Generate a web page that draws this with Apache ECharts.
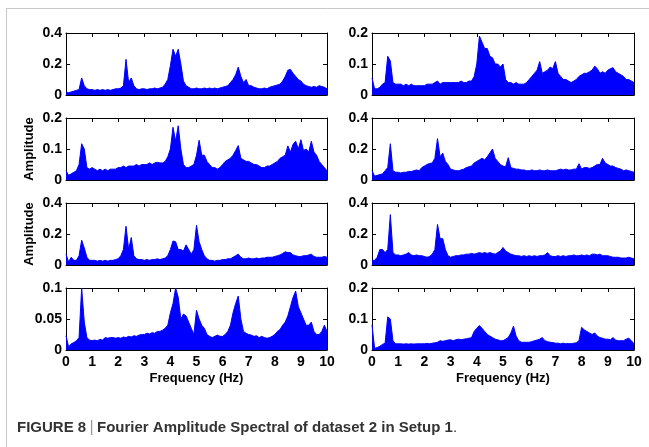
<!DOCTYPE html>
<html>
<head>
<meta charset="utf-8">
<title>Fourier Amplitude Spectral</title>
<script src="https://cdn.jsdelivr.net/npm/echarts@6/dist/echarts.min.js"></script>
<style>
  html, body { margin: 0; padding: 0; background: #fff; }
  #chart { width: 649px; height: 447px; }
</style>
</head>
<body>
<div id="chart"></div>
<script>
// amplitudes, one value per 0.1 Hz from 0 to 10 Hz
var ampA = [0.02,0.015,0.02,0.025,0.03,0.035,0.11,0.06,0.04,0.035,
  0.035,0.03,0.035,0.03,0.035,0.03,0.035,0.03,0.035,0.04,
  0.04,0.045,0.06,0.23,0.08,0.11,0.06,0.04,0.035,0.04,
  0.04,0.035,0.04,0.04,0.045,0.04,0.045,0.05,0.07,0.1,
  0.19,0.295,0.25,0.295,0.2,0.09,0.06,0.05,0.04,0.04,
  0.045,0.04,0.04,0.045,0.04,0.045,0.04,0.045,0.04,0.045,
  0.05,0.055,0.06,0.08,0.1,0.13,0.18,0.12,0.08,0.1,
  0.06,0.06,0.05,0.045,0.04,0.04,0.045,0.04,0.05,0.055,
  0.06,0.065,0.07,0.09,0.12,0.16,0.165,0.14,0.12,0.1,
  0.09,0.07,0.06,0.055,0.05,0.055,0.05,0.06,0.055,0.05,0.04];
var ampB = [0.055,0.02,0.02,0.025,0.035,0.04,0.125,0.11,0.04,0.035,
  0.035,0.035,0.03,0.035,0.03,0.035,0.03,0.03,0.03,0.03,
  0.03,0.035,0.035,0.035,0.04,0.045,0.035,0.04,0.04,0.04,
  0.04,0.04,0.04,0.04,0.045,0.04,0.04,0.045,0.045,0.06,
  0.1,0.19,0.17,0.15,0.15,0.125,0.12,0.1,0.1,0.09,
  0.1,0.05,0.04,0.04,0.035,0.04,0.035,0.035,0.035,0.04,
  0.05,0.06,0.07,0.08,0.108,0.07,0.075,0.08,0.09,0.085,
  0.108,0.07,0.06,0.05,0.05,0.045,0.04,0.045,0.05,0.06,
  0.065,0.07,0.07,0.075,0.08,0.093,0.085,0.07,0.075,0.07,
  0.08,0.085,0.088,0.075,0.07,0.065,0.06,0.05,0.05,0.045,0.04];
var ampC = [0.03,0.015,0.02,0.025,0.03,0.05,0.117,0.1,0.04,0.035,
  0.04,0.035,0.03,0.035,0.03,0.035,0.03,0.035,0.035,0.035,
  0.04,0.04,0.045,0.04,0.045,0.045,0.045,0.05,0.045,0.05,
  0.05,0.05,0.055,0.05,0.055,0.057,0.055,0.055,0.06,0.075,
  0.1,0.17,0.125,0.175,0.1,0.05,0.04,0.04,0.045,0.05,
  0.08,0.128,0.08,0.08,0.06,0.05,0.04,0.04,0.035,0.04,
  0.05,0.06,0.065,0.07,0.08,0.095,0.111,0.07,0.065,0.06,
  0.06,0.055,0.05,0.05,0.045,0.04,0.04,0.045,0.045,0.05,
  0.055,0.06,0.07,0.075,0.08,0.11,0.09,0.115,0.125,0.1,
  0.13,0.095,0.1,0.09,0.125,0.09,0.08,0.06,0.05,0.04,0.03];
var ampD = [0.06,0.025,0.03,0.035,0.04,0.06,0.08,0.234,0.06,0.05,
  0.05,0.045,0.05,0.05,0.055,0.055,0.06,0.065,0.06,0.08,
  0.09,0.1,0.107,0.11,0.14,0.267,0.15,0.173,0.12,0.1,
  0.07,0.065,0.06,0.06,0.065,0.07,0.08,0.085,0.09,0.11,
  0.12,0.13,0.14,0.13,0.15,0.175,0.2,0.14,0.12,0.1,
  0.09,0.085,0.144,0.08,0.075,0.07,0.07,0.065,0.065,0.06,
  0.06,0.065,0.06,0.06,0.065,0.06,0.06,0.065,0.06,0.06,
  0.06,0.065,0.07,0.065,0.07,0.065,0.065,0.07,0.07,0.105,
  0.07,0.08,0.08,0.075,0.08,0.09,0.1,0.1,0.14,0.11,
  0.1,0.09,0.09,0.08,0.075,0.07,0.06,0.065,0.06,0.055,0.05];
var ampE = [0.07,0.02,0.05,0.03,0.03,0.06,0.16,0.11,0.05,0.03,
  0.03,0.03,0.025,0.03,0.025,0.03,0.025,0.03,0.03,0.035,
  0.04,0.06,0.1,0.25,0.1,0.177,0.06,0.04,0.035,0.035,
  0.03,0.035,0.03,0.035,0.035,0.04,0.035,0.04,0.045,0.06,
  0.1,0.155,0.15,0.1,0.1,0.09,0.13,0.1,0.07,0.1,
  0.256,0.15,0.1,0.06,0.04,0.03,0.03,0.025,0.03,0.03,
  0.035,0.035,0.04,0.04,0.05,0.06,0.07,0.05,0.04,0.04,
  0.045,0.04,0.04,0.045,0.04,0.045,0.045,0.05,0.05,0.05,
  0.055,0.06,0.065,0.075,0.085,0.08,0.08,0.065,0.06,0.055,
  0.055,0.06,0.06,0.065,0.07,0.055,0.05,0.05,0.05,0.055,0.05];
var ampF = [0.03,0.03,0.05,0.1,0.1,0.08,0.1,0.325,0.08,0.065,
  0.065,0.06,0.065,0.07,0.08,0.065,0.06,0.065,0.06,0.06,
  0.055,0.05,0.055,0.07,0.1,0.262,0.17,0.17,0.1,0.06,
  0.05,0.055,0.06,0.06,0.065,0.065,0.07,0.07,0.075,0.07,
  0.075,0.08,0.075,0.08,0.075,0.08,0.075,0.07,0.08,0.09,
  0.113,0.09,0.08,0.07,0.065,0.06,0.06,0.055,0.06,0.055,
  0.06,0.055,0.06,0.055,0.06,0.06,0.065,0.08,0.06,0.055,
  0.055,0.06,0.055,0.06,0.055,0.06,0.06,0.065,0.06,0.06,
  0.065,0.06,0.065,0.06,0.07,0.07,0.065,0.07,0.06,0.06,
  0.06,0.055,0.05,0.05,0.05,0.045,0.045,0.045,0.05,0.045,0.04];
var ampG = [0.023,0.005,0.01,0.012,0.015,0.02,0.1,0.045,0.02,0.016,
  0.015,0.016,0.015,0.017,0.016,0.02,0.019,0.02,0.02,0.019,
  0.02,0.019,0.021,0.02,0.022,0.021,0.023,0.022,0.024,0.025,
  0.025,0.027,0.026,0.028,0.027,0.03,0.03,0.032,0.035,0.04,
  0.06,0.075,0.1,0.085,0.05,0.058,0.055,0.045,0.035,0.025,
  0.064,0.05,0.04,0.035,0.025,0.022,0.02,0.022,0.024,0.022,
  0.022,0.025,0.03,0.04,0.06,0.075,0.087,0.05,0.03,0.027,
  0.025,0.024,0.022,0.023,0.02,0.022,0.02,0.019,0.02,0.022,
  0.025,0.03,0.033,0.04,0.045,0.055,0.07,0.085,0.095,0.07,
  0.06,0.05,0.04,0.04,0.045,0.03,0.025,0.025,0.03,0.04,0.03];
var ampH = [0.081,0.005,0.008,0.012,0.018,0.022,0.107,0.1,0.03,0.02,
  0.02,0.02,0.019,0.02,0.019,0.02,0.019,0.02,0.02,0.02,
  0.02,0.021,0.02,0.022,0.023,0.025,0.03,0.028,0.03,0.032,
  0.033,0.03,0.033,0.035,0.033,0.035,0.036,0.038,0.04,0.06,
  0.07,0.079,0.07,0.06,0.05,0.045,0.04,0.035,0.033,0.03,
  0.03,0.035,0.04,0.055,0.077,0.045,0.03,0.025,0.025,0.025,
  0.025,0.027,0.03,0.032,0.035,0.04,0.03,0.027,0.025,0.024,
  0.022,0.022,0.02,0.022,0.02,0.021,0.02,0.022,0.023,0.03,
  0.073,0.065,0.06,0.055,0.05,0.055,0.045,0.04,0.038,0.035,
  0.035,0.033,0.04,0.032,0.03,0.03,0.03,0.035,0.038,0.03,0.02];

// panel order: row by row, left then right
var panelData = [ampA, ampB, ampC, ampD, ampE, ampF, ampG, ampH];
var panelMax = [0.4, 0.2, 0.2, 0.4, 0.4, 0.4, 0.1, 0.2];
var yNames = ['', '', 'Amplitude', '', 'Amplitude', '', '', ''];

var freqs = [];
for (var i = 0; i < ampA.length; i++) freqs.push(i / 10);

var FONT = 'Liberation Sans';
var colLeft = [66, 372];
var colWidth = [261, 262];
var rowTop = [33, 118, 203, 288];
var rowHeight = 62;

var grids = [], xAxes = [], yAxes = [], series = [];
var lineStyle = { color: '#000', width: 1 };
var tickStyle = { inside: true, length: 4, lineStyle: { color: '#000', width: 1 } };
var labelFont = { color: '#000', fontFamily: FONT, fontWeight: 'bold', fontSize: 14 };
var nameFont = { color: '#000', fontFamily: FONT, fontWeight: 'bold', fontSize: 13 };

for (var k = 0; k < 8; k++) {
  var row = Math.floor(k / 2), col = k % 2;
  var bottomRow = row === 3;
  grids.push({ left: colLeft[col], top: rowTop[row], width: colWidth[col], height: rowHeight });

  xAxes.push({
    type: 'value', gridIndex: k, min: 0, max: 10, interval: 1, position: 'bottom',
    axisLine: { show: true, onZero: false, lineStyle: lineStyle },
    axisTick: tickStyle, splitLine: { show: false },
    axisLabel: Object.assign({ show: bottomRow, margin: 5 }, labelFont),
    name: bottomRow ? 'Frequency (Hz)' : '', nameLocation: 'middle', nameGap: 22,
    nameTextStyle: nameFont
  });
  xAxes.push({
    type: 'value', gridIndex: k, min: 0, max: 10, interval: 1, position: 'top',
    axisLine: { show: true, onZero: false, lineStyle: lineStyle },
    axisTick: tickStyle, splitLine: { show: false }, axisLabel: { show: false }
  });
  yAxes.push({
    type: 'value', gridIndex: k, min: 0, max: panelMax[k], interval: panelMax[k] / 2, position: 'left',
    axisLine: { show: true, onZero: false, lineStyle: lineStyle },
    axisTick: tickStyle, splitLine: { show: false },
    axisLabel: Object.assign({ margin: 4 }, labelFont),
    name: yNames[k], nameLocation: 'middle', nameGap: 30,
    nameTextStyle: nameFont
  });
  yAxes.push({
    type: 'value', gridIndex: k, min: 0, max: panelMax[k], interval: panelMax[k] / 2, position: 'right',
    axisLine: { show: true, onZero: false, lineStyle: lineStyle },
    axisTick: tickStyle, splitLine: { show: false }, axisLabel: { show: false }
  });

  series.push({
    type: 'line', xAxisIndex: 2 * k, yAxisIndex: 2 * k,
    showSymbol: false, silent: true, animation: false,
    lineStyle: { color: '#0000ff', width: 1 },
    areaStyle: { color: '#0000ff', opacity: 1 },
    data: freqs.map(function (f, i) { return [f, panelData[k][i]]; })
  });
}

var chart = echarts.init(document.getElementById('chart'));
chart.setOption({
  backgroundColor: '#fff',
  animation: false,
  grid: grids,
  xAxis: xAxes,
  yAxis: yAxes,
  series: series,
  graphic: [
    { type: 'line', shape: { x1: 6, y1: 8.5, x2: 649, y2: 8.5 }, style: { stroke: '#c8c8c8', lineWidth: 1 } },
    { type: 'line', shape: { x1: 6.5, y1: 8, x2: 6.5, y2: 447 }, style: { stroke: '#c8c8c8', lineWidth: 1 } },
    {
      type: 'text', left: 17, top: 420,
      style: {
        text: '{b|FIGURE 8} {s||} {b|Fourier Amplitude Spectral of dataset 2 in Setup 1}{n|.}',
        rich: {
          b: { fontFamily: FONT, fontWeight: 'bold', fontSize: 15, fill: '#333' },
          s: { fontFamily: FONT, fontWeight: 'normal', fontSize: 16, fill: '#999' },
          n: { fontFamily: FONT, fontWeight: 'normal', fontSize: 15, fill: '#333' }
        }
      }
    }
  ]
});
</script>
</body>
</html>
